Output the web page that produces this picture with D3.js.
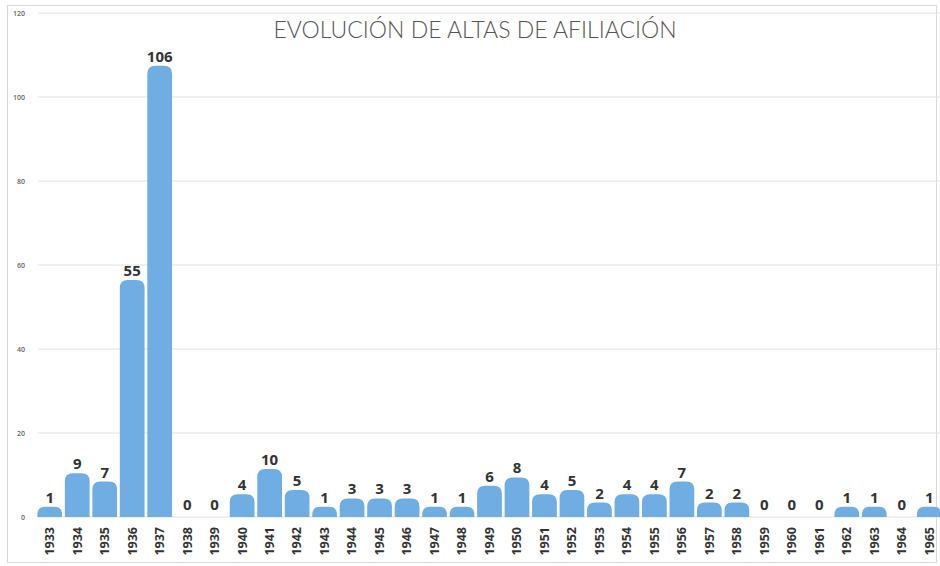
<!DOCTYPE html>
<html>
<head>
<meta charset="utf-8">
<script src="https://cdn.jsdelivr.net/npm/d3@7"></script>
<style>
  body { margin: 0; background: #fff; }
  svg { display: block; }
</style>
</head>
<body>
<div id="container"></div>
<script>
const w = 940,
  h = 566;

const years = d3.range(1933, 1966).map(String);
const altas = [1, 9, 7, 55, 106, 0, 0, 4, 10, 5, 1, 3, 3, 3, 1, 1, 6, 8, 4, 5, 2, 4, 4, 7, 2, 2, 0, 0, 0, 1, 1, 0, 1];
const yTicks = [0, 20, 40, 60, 80, 100, 120];

const svg = d3.select('#container').append('svg').attr('width', w).attr('height', h);

// frame
svg
  .append('rect')
  .attr('x', 7.5)
  .attr('y', 5.5)
  .attr('width', 929)
  .attr('height', 557)
  .attr('fill', 'none')
  .attr('stroke', '#d8d8d8');

const x = d3.scaleBand().domain(years).range([36, 943]).paddingInner(0.1).paddingOuter(0.05);
const y = d3.scaleLinear().domain([0, 120]).range([517, 13]);
const cap = 6; // rounded end sticks out above the value

// grid
svg
  .append('g')
  .selectAll('line')
  .data(yTicks)
  .enter()
  .append('line')
  .attr('x1', 38)
  .attr('x2', w)
  .attr('y1', (d) => y(d))
  .attr('y2', (d) => y(d))
  .attr('stroke', '#e2e2e2')
  .attr('stroke-width', 1);

const yAxis = d3.axisLeft(y).tickValues(yTicks).tickSize(0).tickPadding(0);
svg
  .append('g')
  .attr('transform', 'translate(25, 0)')
  .call(yAxis)
  .call((g) => g.select('.domain').remove())
  .selectAll('text')
  .attr('font-family', 'Open Sans, sans-serif')
  .attr('font-weight', 600)
  .attr('font-size', 7)
  .attr('fill', '#666');

svg
  .append('text')
  .text('EVOLUCIÓN DE ALTAS DE AFILIACIÓN')
  .attr('x', 475)
  .attr('y', 38)
  .attr('text-anchor', 'middle')
  .attr('font-family', 'Lato, sans-serif')
  .attr('font-weight', 300)
  .attr('font-size', 23)
  .attr('fill', '#555');

function barPath(d, i) {
  if (d <= 0) return '';
  const x0 = x(years[i]);
  const bw = x.bandwidth();
  const y0 = y(0);
  const y1 = y(d) - cap;
  const r = Math.min(8, bw / 2, y0 - y1);
  return (
    'M' + x0 + ',' + y0 +
    'V' + (y1 + r) +
    'Q' + x0 + ',' + y1 + ' ' + (x0 + r) + ',' + y1 +
    'H' + (x0 + bw - r) +
    'Q' + (x0 + bw) + ',' + y1 + ' ' + (x0 + bw) + ',' + (y1 + r) +
    'V' + y0 + 'Z'
  );
}

svg
  .append('g')
  .selectAll('path')
  .data(altas)
  .enter()
  .append('path')
  .attr('d', barPath)
  .attr('fill', '#70ade2');

svg
  .append('g')
  .selectAll('text')
  .data(altas)
  .enter()
  .append('text')
  .text((d) => d)
  .attr('x', (d, i) => x(years[i]) + x.bandwidth() / 2)
  .attr('y', (d) => (d > 0 ? y(d) - cap - 4 : y(d) - 7))
  .attr('text-anchor', 'middle')
  .attr('font-family', 'Open Sans, sans-serif')
  .attr('font-weight', 700)
  .attr('font-size', 15)
  .attr('fill', '#333');

const xAxis = d3.axisBottom(x).tickSize(0).tickPadding(0);
svg
  .append('g')
  .attr('transform', 'translate(0, 524)')
  .call(xAxis)
  .call((g) => g.select('.domain').remove())
  .selectAll('text')
  .attr('transform', 'rotate(-90)')
  .attr('text-anchor', 'end')
  .attr('dy', '0.35em')
  .attr('x', -3)
  .attr('y', 0)
  .attr('font-family', 'Open Sans, sans-serif')
  .attr('font-weight', 700)
  .attr('font-size', 12.5)
  .attr('fill', '#333');
</script>
</body>
</html>
